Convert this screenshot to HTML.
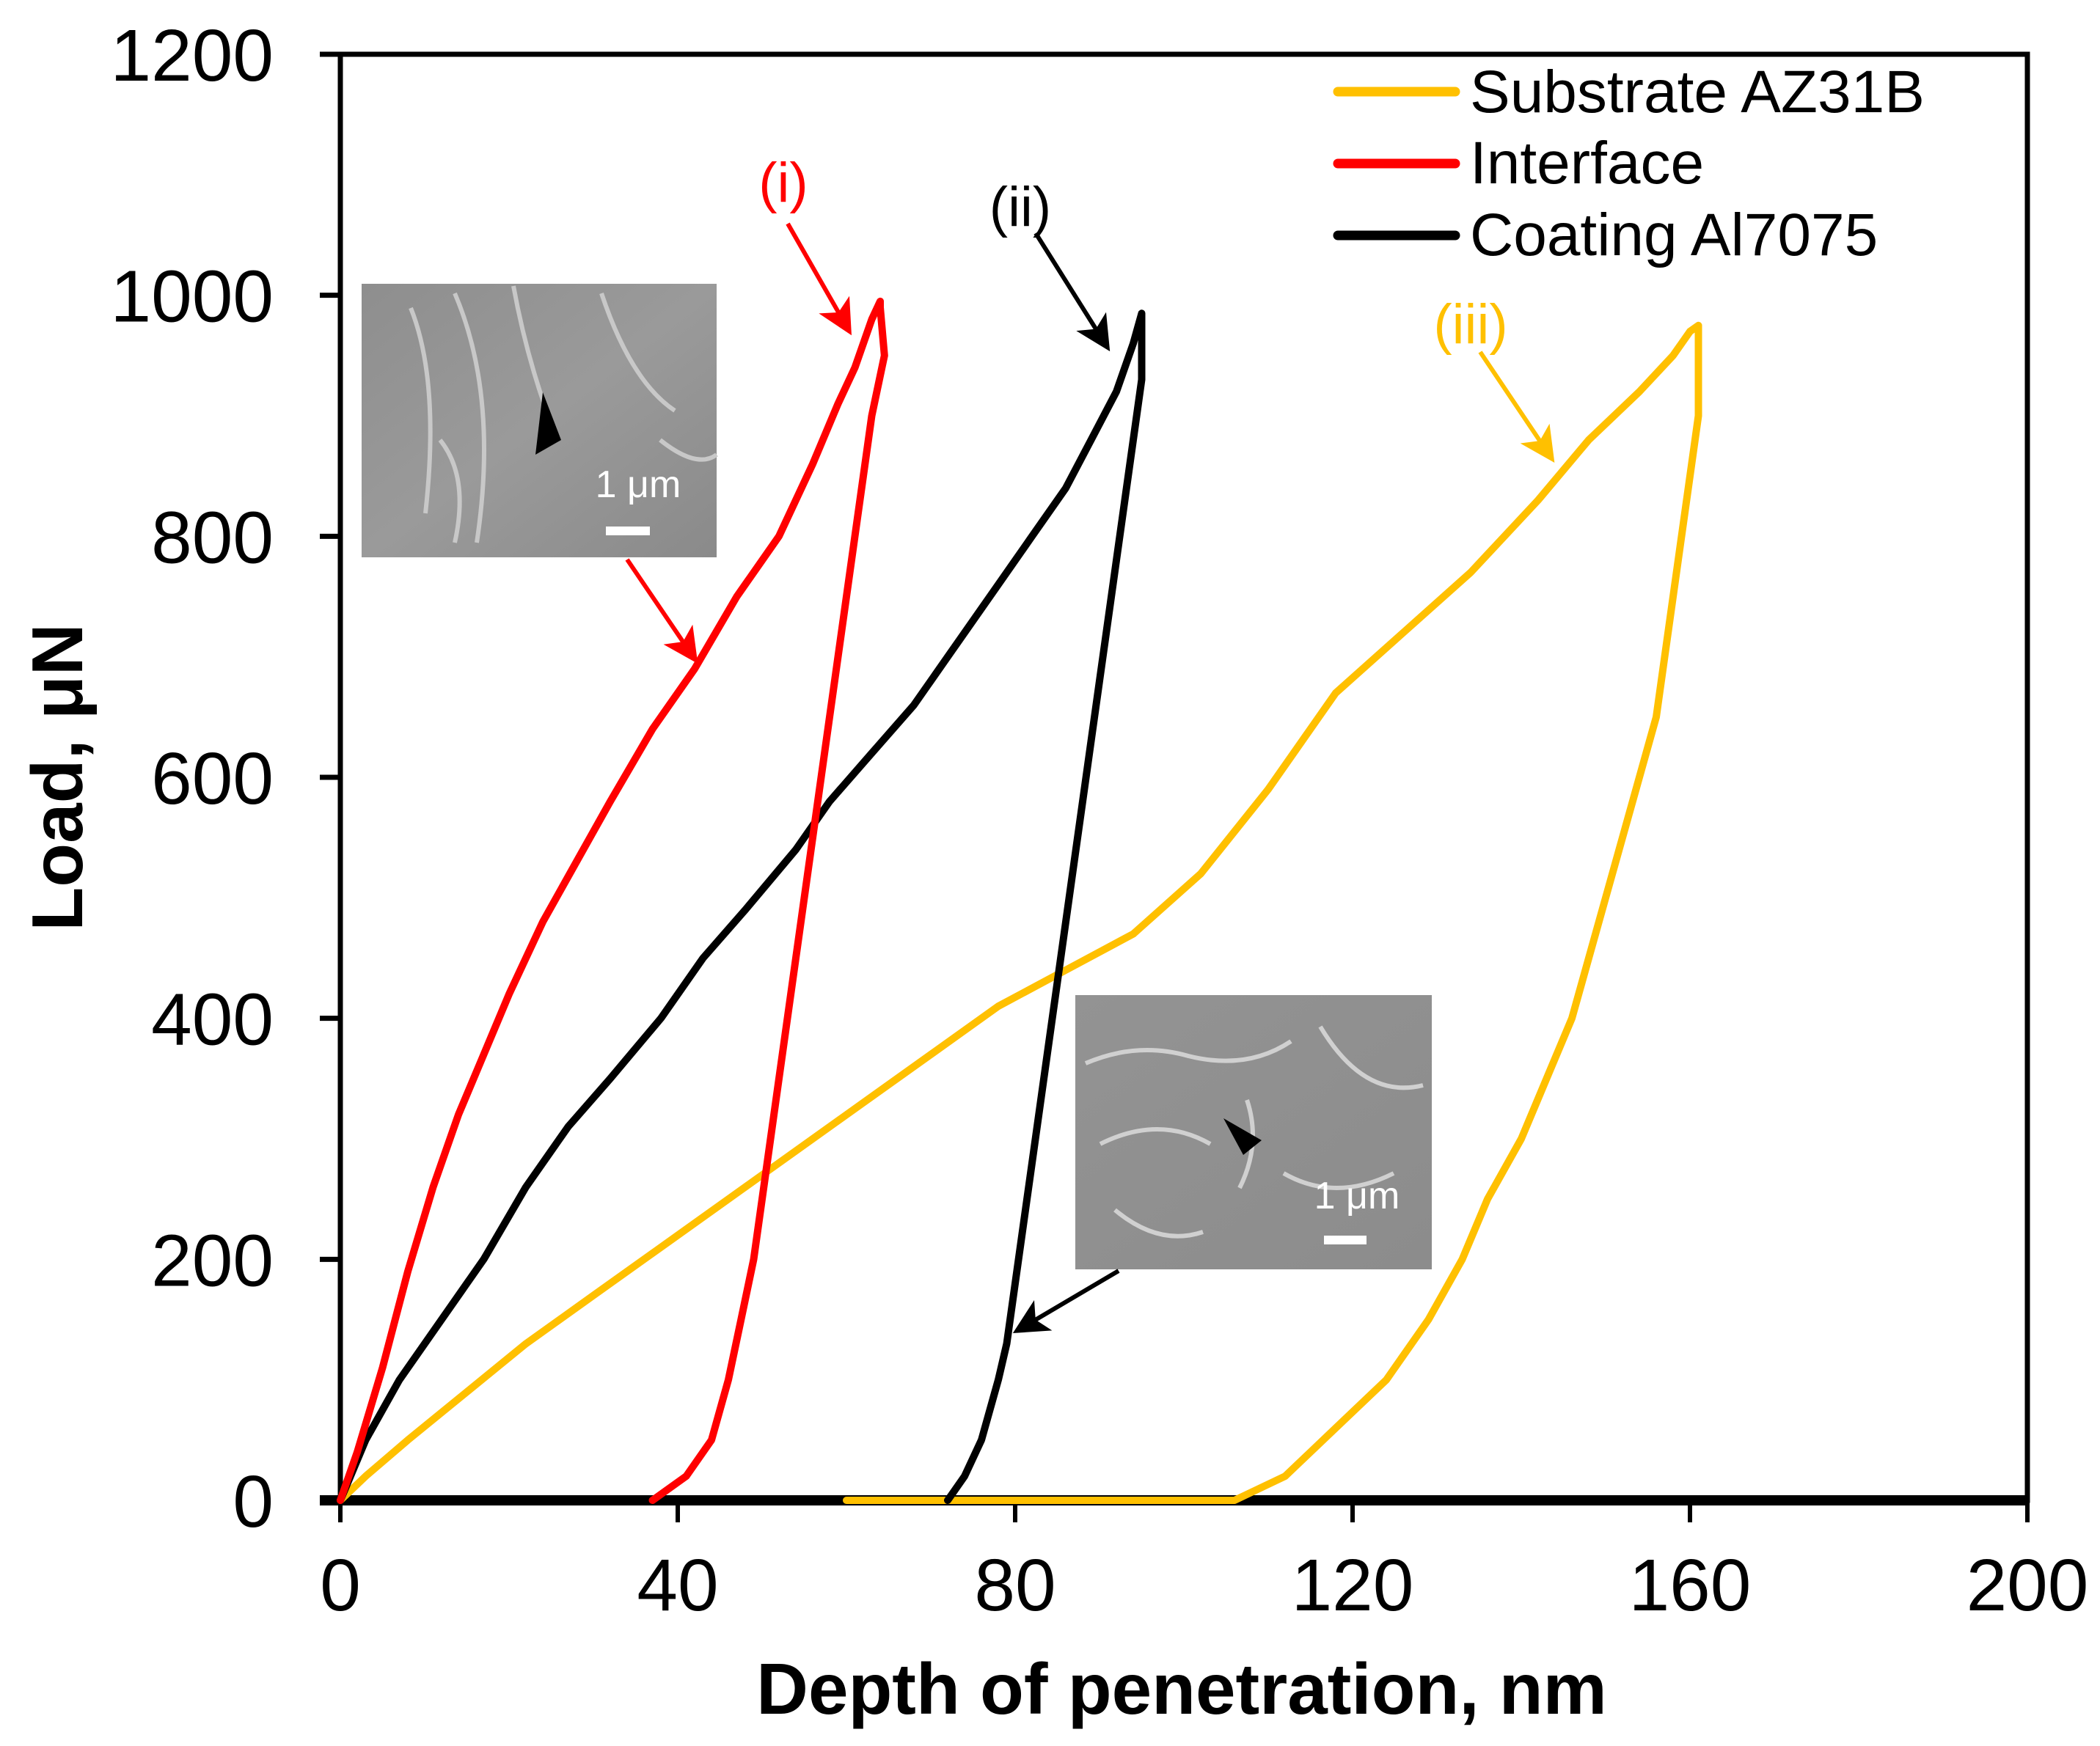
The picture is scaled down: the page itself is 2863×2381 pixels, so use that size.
<!DOCTYPE html>
<html><head><meta charset="utf-8"><style>
html,body{margin:0;padding:0;background:#fff;}
svg{display:block;}
text{font-family:"Liberation Sans",Arial,sans-serif;}
</style></head><body>
<svg id="chart" width="2863" height="2381" viewBox="0 0 2863 2381" xmlns="http://www.w3.org/2000/svg">
<defs>
<linearGradient id="g1" x1="0" y1="0" x2="1" y2="1"><stop offset="0" stop-color="#8e8e8e"/><stop offset="0.5" stop-color="#9a9a9a"/><stop offset="1" stop-color="#8a8a8a"/></linearGradient>
<linearGradient id="g2" x1="0" y1="0" x2="1" y2="1"><stop offset="0" stop-color="#939393"/><stop offset="1" stop-color="#8c8c8c"/></linearGradient>
<marker id="arR" markerWidth="8" markerHeight="8" refX="7" refY="4" orient="auto" markerUnits="strokeWidth"><path d="M0,0 L8,4 L0,8 L2,4 z" fill="#ff0000"/></marker>
<marker id="arK" markerWidth="8" markerHeight="8" refX="7" refY="4" orient="auto" markerUnits="strokeWidth"><path d="M0,0 L8,4 L0,8 L2,4 z" fill="#000"/></marker>
<marker id="arY" markerWidth="8" markerHeight="8" refX="7" refY="4" orient="auto" markerUnits="strokeWidth"><path d="M0,0 L8,4 L0,8 L2,4 z" fill="#ffc000"/></marker>
</defs>
<g id="axes"></g>
<g id="series"></g>
<g>
<rect x="493" y="387" width="484" height="373" fill="url(#g1)"/>
<path d="M560,420 Q600,520 580,700 M620,400 Q680,540 650,740 M700,390 Q720,500 760,600 M820,400 Q860,520 920,560 M600,600 Q640,650 620,740 M900,600 Q950,640 977,620" stroke="#c8c8c8" stroke-width="6" fill="none"/>
<polygon points="740,535 765,600 730,620" fill="#000"/>
<text x="870" y="678" font-size="52" fill="#fff" text-anchor="middle">1 μm</text>
<rect x="826" y="718" width="60" height="12" fill="#fff"/>
</g>
<g>
<rect x="1466" y="1357" width="486" height="374" fill="url(#g2)"/>
<path d="M1480,1450 Q1550,1420 1620,1440 Q1700,1460 1760,1420 M1500,1560 Q1580,1520 1650,1560 M1800,1400 Q1860,1500 1940,1480 M1750,1600 Q1820,1640 1900,1600 M1520,1650 Q1580,1700 1640,1680 M1700,1500 Q1720,1560 1690,1620" stroke="#d0d0d0" stroke-width="6" fill="none"/>
<polygon points="1668,1525 1695,1575 1720,1555" fill="#000"/>
<text x="1850" y="1648" font-size="52" fill="#fff" text-anchor="middle">1 μm</text>
<rect x="1805" y="1685" width="58" height="12" fill="#fff"/>
</g>
<text x="1068" y="275" font-size="76" fill="#ff0000" text-anchor="middle">(i)</text>
<line x1="1074" y1="305" x2="1158" y2="452" stroke="#ff0000" stroke-width="6" marker-end="url(#arR)"/>
<text x="1391" y="308" font-size="76" fill="#000" text-anchor="middle">(ii)</text>
<line x1="1412" y1="318" x2="1510" y2="474" stroke="#000" stroke-width="6" marker-end="url(#arK)"/>
<text x="2005" y="468" font-size="76" fill="#ffc000" text-anchor="middle">(iii)</text>
<line x1="2018" y1="480" x2="2116" y2="626" stroke="#ffc000" stroke-width="6" marker-end="url(#arY)"/>
<line x1="855" y1="763" x2="948" y2="900" stroke="#ff0000" stroke-width="6" marker-end="url(#arR)"/>
<line x1="1525" y1="1733" x2="1386" y2="1815" stroke="#000" stroke-width="6" marker-end="url(#arK)"/>
<g>
<g><line x1="1824" y1="125" x2="1984" y2="125" stroke="#ffc000" stroke-width="13" stroke-linecap="round"/><text x="2004" y="153" font-size="82" fill="#000">Substrate AZ31B</text></g>
<g><line x1="1824" y1="223" x2="1984" y2="223" stroke="#ff0000" stroke-width="13" stroke-linecap="round"/><text x="2004" y="250" font-size="82" fill="#000">Interface</text></g>
<g><line x1="1824" y1="321" x2="1984" y2="321" stroke="#000" stroke-width="13" stroke-linecap="round"/><text x="2004" y="348" font-size="82" fill="#000">Coating Al7075</text></g>
</g>
<text x="1611" y="2337" font-size="98" font-weight="bold" text-anchor="middle">Depth of penetration, nm</text>
<text transform="translate(112,1060) rotate(-90)" font-size="98" font-weight="bold" text-anchor="middle">Load, μN</text>
</svg>
<script>
const xTicks = [0, 40, 80, 120, 160, 200];
const yTicks = [0, 200, 400, 600, 800, 1000, 1200];
const substrateX = [0,3,8,15,22,30,38,46,54,62,70,78,86,94,102,110,118,126,134,142,148,154,158,160,161, 161,161,160,159,158,157,156,154,152,150,148,146,143,140,136,133,129,124,118,112,106,60];
const substrateY = [0,20,50,90,130,170,210,250,290,330,370,410,440,470,520,590,670,720,770,830,880,920,950,970,975, 960,900,850,800,750,700,650,600,550,500,450,400,350,300,250,200,150,100,60,20,0,0];
const interfaceX = [0,2,5,8,11,14,17,20,24,28,32,37,42,47,52,56,59,61,63,64, 64,64.5,63,62,61,60,59,58,57,56,55,54,53,52,51,50,49,47.5,46,44,41,37];
const interfaceY = [0,40,110,190,260,320,370,420,480,530,580,640,690,750,800,860,910,940,980,995, 990,950,900,850,800,750,700,650,600,550,500,450,400,350,300,250,200,150,100,50,20,0];
const coatingX = [0,3,7,12,17,22,27,32,38,43,48,54,58,63,68,73,78,82,86,89,92,94,95, 95,95,94,93,92,91,90,89,88,87,86,85,84,83,82,81,80,79,78,76,74,72];
const coatingY = [0,50,100,150,200,260,310,350,400,450,490,540,580,620,660,710,760,800,840,880,920,960,985, 980,930,880,830,780,730,680,630,580,530,480,430,380,330,280,230,180,130,100,50,20,0];

const X0=464, X1=2764, Y0=2046, Y1=74;
const sx = v => X0 + (v/200)*(X1-X0);
const sy = v => Y0 - (v/1200)*(Y0-Y1);
const NS='http://www.w3.org/2000/svg';
const series = document.getElementById('series');
const axes = document.getElementById('axes');
function mk(tag, attrs, parent){const e=document.createElementNS(NS,tag);for(const k in attrs)e.setAttribute(k,attrs[k]);parent.appendChild(e);return e;}
function drawSeries(xs, ys, color, name){
  const d = xs.map((x,i)=>(i?'L':'M')+sx(x).toFixed(1)+','+sy(ys[i]).toFixed(1)).join(' ');
  const p = mk('path',{d:d,fill:'none',stroke:color,'stroke-width':10,'stroke-linejoin':'round','stroke-linecap':'round'},series);
  
  
}
drawSeries(substrateX, substrateY, '#ffc000', 'series-substrate-az31b');
drawSeries(coatingX, coatingY, '#000000', 'series-coating-al7075');
drawSeries(interfaceX, interfaceY, '#ff0000', 'series-interface');

const fr = mk('rect',{x:X0,y:Y1,width:X1-X0,height:Y0-Y1,fill:'none',stroke:'#000','stroke-width':7},axes);


const xa = mk('line',{x1:X0-28,y1:Y0,x2:X1,y2:Y0,stroke:'#000','stroke-width':14},axes);


xTicks.forEach(v=>{
  const t = mk('line',{x1:sx(v),y1:Y0,x2:sx(v),y2:Y0+30,stroke:'#000','stroke-width':6},axes);
  
  
  const l = mk('text',{x:sx(v),y:2196,'font-size':100,'text-anchor':'middle'},axes);
  l.textContent = v;
  
  
});
yTicks.forEach(v=>{
  const t = mk('line',{x1:436,y1:sy(v),x2:X0,y2:sy(v),stroke:'#000','stroke-width':7},axes);
  
  
  const l = mk('text',{x:373,y:sy(v)+36,'font-size':100,'text-anchor':'end'},axes);
  l.textContent = v;
  
  
});
</script>
</body></html>
